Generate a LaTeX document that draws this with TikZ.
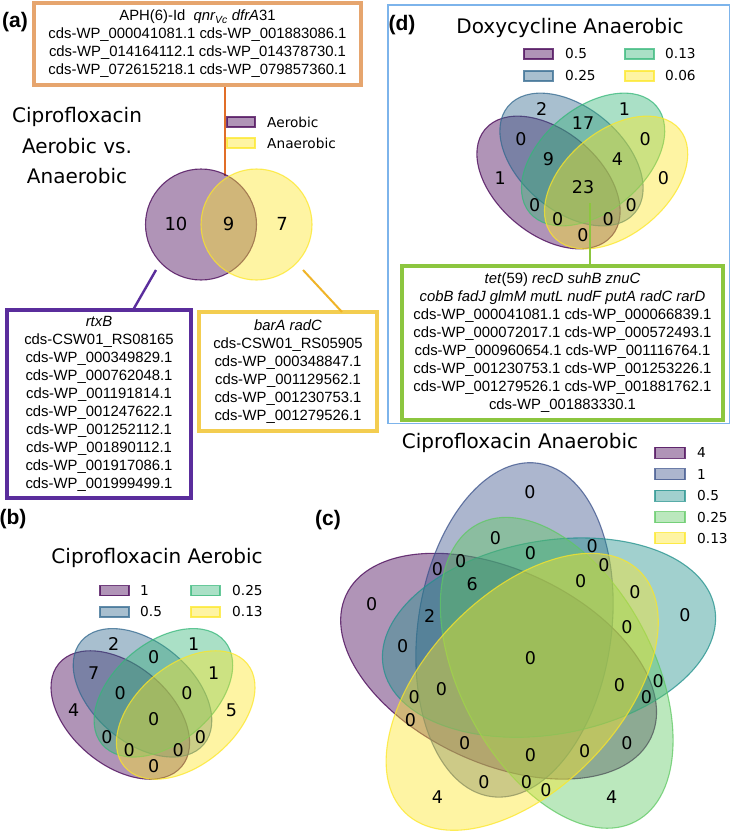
\documentclass[tikz,border=0pt]{standalone}
\usepackage{fontspec}
\setmainfont{Liberation Sans}
\newfontfamily\dv{DejaVu Sans}
\definecolor{vpur}{HTML}{440154}
\definecolor{vblu4}{HTML}{31688E}
\definecolor{vgrn4}{HTML}{35B779}
\definecolor{vyel}{HTML}{FDE725}
\definecolor{vblu5}{HTML}{3B528B}
\definecolor{vtea5}{HTML}{21918C}
\definecolor{vgrn5}{HTML}{5EC962}
\definecolor{obord}{RGB}{230,165,110}
\definecolor{oline}{RGB}{225,110,40}
\definecolor{pbord}{RGB}{90,45,156}
\definecolor{ybord}{RGB}{243,205,80}
\definecolor{yline}{RGB}{240,180,40}
\definecolor{gbord}{RGB}{140,198,63}
\definecolor{bbord}{RGB}{125,180,235}
\begin{document}
\begin{tikzpicture}[x=1pt,y=-1pt,
  box/.style={draw=#1, line width=4pt, inner sep=0pt, align=center, font=\fontsize{14.85}{18}\selectfont},
  num/.style={font=\dv\fontsize{17.5}{18}\selectfont, inner sep=0pt},
  ttl/.style={font=\dv\fontsize{20}{24}\selectfont, inner sep=0pt},
  leg/.style={font=\dv\fontsize{13.7}{16}\selectfont, anchor=west, inner sep=0pt},
  plabel/.style={font=\bfseries\fontsize{21}{24}\selectfont, inner sep=0pt},
  vset/.style={fill=#1, fill opacity=0.42, draw=#1, draw opacity=0.75, line width=1.1pt},
  legbox/.style={fill=#1, fill opacity=0.42, draw=#1, draw opacity=0.75, line width=1.1pt, inner sep=0pt, minimum width=29pt, minimum height=10pt},
  conn/.style={draw=#1, line width=2pt}
]
\useasboundingbox (0,0) rectangle (732,838);
\fill[white] (0,0) rectangle (732,838);

% ---------------- panel (a) ----------------
\node[plabel] (la) at (15,22) {(a)};
\node[box=obord, minimum width=327pt, minimum height=82pt] (obox) at (197.5,44)
 {APH(6)-Id\ \ \textit{qnr\textsubscript{Vc}} \textit{dfrA}31\\
  cds-WP\_000041081.1 cds-WP\_001883086.1\\
  cds-WP\_014164112.1 cds-WP\_014378730.1\\
  cds-WP\_072615218.1 cds-WP\_079857360.1};
\coordinate (aTop) at (225,175.5);
\draw[conn=oline] (obox.south -| aTop) -- (aTop);

\node[ttl, align=center, font=\dv\fontsize{20}{30.5}\selectfont] (atitle) at (77,146)
 {Ciprofloxacin\\Aerobic vs.\\Anaerobic};

\node[legbox=vpur, minimum width=28pt] (alA) at (241,122) {};
\node[legbox=vyel, minimum width=28pt] (alB) at (241,143) {};
\node[leg] (altA) at (267,122) {Aerobic};
\node[leg] (altB) at (267,143) {Anaerobic};

\filldraw[vset=vpur] (201,224.5) circle [radius=55.5pt];
\filldraw[vset=vyel] (256.5,224.5) circle [radius=55.5pt];
\node[num, font=\dv\fontsize{18}{18}\selectfont] (a10) at (176,224) {10};
\node[num, font=\dv\fontsize{18}{18}\selectfont] (a9) at (228.5,224) {9};
\node[num, font=\dv\fontsize{18}{18}\selectfont] (a7) at (282,224) {7};

\node[box=pbord, minimum width=184pt, minimum height=188pt] (pbox) at (99,404)
 {\textit{rtxB}\\
  cds-CSW01\_RS08165\\
  cds-WP\_000349829.1\\
  cds-WP\_000762048.1\\
  cds-WP\_001191814.1\\
  cds-WP\_001247622.1\\
  cds-WP\_001252112.1\\
  cds-WP\_001890112.1\\
  cds-WP\_001917086.1\\
  cds-WP\_001999499.1};
\node[box=ybord, minimum width=178pt, minimum height=119pt] (ybox) at (288,371.5)
 {\textit{barA radC}\\
  cds-CSW01\_RS05905\\
  cds-WP\_000348847.1\\
  cds-WP\_001129562.1\\
  cds-WP\_001230753.1\\
  cds-WP\_001279526.1};
\coordinate (pS) at (156,270);
\coordinate (pE) at (133,310);
\draw[conn=pbord, line width=2.4pt] (pS) -- (pE);
\coordinate (yS) at (303,270);
\coordinate (yE) at (342,312);
\draw[conn=yline] (yS) -- (yE);

% ---------------- panel (d) ----------------
\node[draw=bbord, line width=1.5pt, inner sep=0pt, minimum width=341.5pt, minimum height=418.5pt] (dframe) at (558.5,214) {};
\node[plabel] (ld) at (402,25) {(d)};
\node[ttl] (dtitle) at (570,28) {Doxycycline Anaerobic};
\node[legbox=vpur] (dl1) at (538.5,54) {};
\node[legbox=vblu4] (dl2) at (538.5,76) {};
\node[legbox=vgrn4] (dl3) at (639.5,54) {};
\node[legbox=vyel] (dl4) at (639.5,76) {};
\node[leg] (dt1) at (565,54) {0.5};
\node[leg] (dt2) at (565,76) {0.25};
\node[leg] (dt3) at (665,54) {0.13};
\node[leg] (dt4) at (665,76) {0.06};
\foreach \cx/\cy/\ang/\col in {548.5/182.5/140/vpur, 571.5/159.5/140/vblu4, 593.1/159.5/40/vgrn4, 616.1/182.5/40/vyel}
  \filldraw[vset=\col, rotate around={\ang:(\cx,\cy)}] (\cx,\cy) ellipse [x radius=82.8pt, y radius=51.75pt];
\foreach \px/\py/\t [count=\i] in {663.5/177.9/0, 624.4/108.9/1, 645.1/138.8/0, 541.6/108.9/2, 631.3/205.5/0, 583/122.7/17, 617.5/159.5/4, 500.2/177.9/1, 583/235.4/0, 534.7/205.5/0, 557.7/219.3/0, 520.9/138.8/0, 608.3/219.3/0, 548.5/159.5/9, 583/187.1/23}
  \node[num] (dn\i) at (\px,\py) {\t};
\node[box=gbord, minimum width=321pt, minimum height=154pt] (gbox) at (562.5,343)
 {\textit{tet}(59) \textit{recD suhB znuC}\\
  \textit{cobB fadJ glmM mutL nudF putA radC rarD}\\
  cds-WP\_000041081.1 cds-WP\_000066839.1\\
  cds-WP\_000072017.1 cds-WP\_000572493.1\\
  cds-WP\_000960654.1 cds-WP\_001116764.1\\
  cds-WP\_001230753.1 cds-WP\_001253226.1\\
  cds-WP\_001279526.1 cds-WP\_001881762.1\\
  cds-WP\_001883330.1};
\coordinate (gS) at (590,203);
\draw[conn=gbord] (gS) -- (gS |- gbox.north);

% ---------------- panel (b) ----------------
\node[plabel] (lb) at (13,519) {(b)};
\node[ttl] (btitle) at (157,558) {Ciprofloxacin Aerobic};
\node[legbox=vpur] (bl1) at (114.5,590.5) {};
\node[legbox=vblu4] (bl2) at (114.5,612) {};
\node[legbox=vgrn4] (bl3) at (205.5,590.5) {};
\node[legbox=vyel] (bl4) at (205.5,612) {};
\node[leg] (bt1) at (140,590.5) {1};
\node[leg] (bt2) at (140,612) {0.5};
\node[leg] (bt3) at (232,590.5) {0.25};
\node[leg] (bt4) at (232,612) {0.13};
\foreach \cx/\cy/\ang/\col in {120.3/715.0/140/vpur, 142.5/692.8/140/vblu4, 163.4/692.8/40/vgrn4, 185.7/715.0/40/vyel}
  \filldraw[vset=\col, rotate around={\ang:(\cx,\cy)}] (\cx,\cy) ellipse [x radius=80.1pt, y radius=50.1pt];
\foreach \px/\py/\t [count=\i] in {231.5/710.6/5, 193.7/644.0/1, 213.7/672.8/1, 113.6/644.0/2, 200.4/737.2/0, 153.7/657.3/0, 187.0/692.8/0, 73.6/710.6/4, 153.7/766.1/0, 106.9/737.2/0, 129.2/750.5/0, 93.6/672.8/7, 178.1/750.5/0, 120.3/692.8/0, 153.7/719.4/0}
  \node[num] (bn\i) at (\px,\py) {\t};

% ---------------- panel (c) ----------------
\node[plabel] (lc) at (328,520) {(c)};
\node[ttl] (ctitle) at (520,443) {Ciprofloxacin Anaerobic};
\foreach \y/\col/\t [count=\i] in {452.7/vpur/4, 474/vblu5/1, 495.7/vtea5/0.5, 517.3/vgrn5/0.25, 538.3/vyel/0.13}{
  \node[legbox=\col, minimum width=30pt, minimum height=11pt] (cl\i) at (670,\y) {};
  \node[leg] (ct\i) at (697,\y) {\t};
}
\foreach \cx/\cy/\ang/\col in {498.6/666.2/155/vpur, 514.5/629.9/82/vblu5, 549/637.6/10/vtea5, 556.7/672.8/118/vgrn5, 522.2/691.8/46/vyel}
  \filldraw[vset=\col, rotate around={\ang:(\cx,\cy)}] (\cx,\cy) ellipse [x radius=168.3pt, y radius=96.75pt];
\foreach \px/\py/\t [count=\i] in {
  437.5/797.4/4, 611.6/797.4/4, 545.9/789.7/0, 685/615.5/0, 634.9/592.3/0, 658.1/681.3/0, 627/627/0,
  530/491.7/0, 483.9/782/0, 495.5/538/0, 526.5/782/0, 592.3/545.9/0, 603.9/565.2/0, 530.4/553.6/0, 580.7/580.7/0,
  371.7/604/0, 410.4/720/0, 627/743.3/0, 584.6/751/0, 402.7/646.5/0, 414.3/696.8/0, 646.5/696.8/0, 619.4/685.2/0,
  437.5/569/0, 464.6/743.3/0, 460.7/561.4/0, 530.4/754.9/0, 429.8/615.5/2, 441.4/689.1/0, 472.3/584.6/6, 530.4/658/0}
  \node[num] (cn\i) at (\px,\py) {\t};
\end{tikzpicture}
\end{document}
